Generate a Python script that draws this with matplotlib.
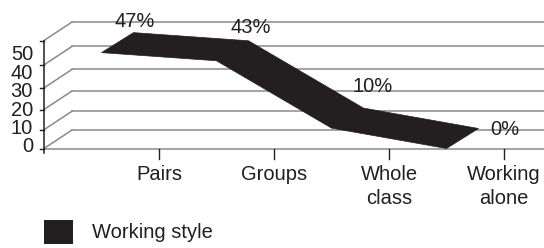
import matplotlib.pyplot as plt
from matplotlib.patches import Polygon, Rectangle

# data
categories = ['Pairs', 'Groups', 'Whole\nclass', 'Working\nalone']
values = [47, 43, 10, 0]
point_labels = ['47%', '43%', '10%', '0%']
y_ticks = [0, 10, 20, 30, 40, 50]
series_name = 'Working style'

# layout (pixel frame, y grows downwards)
W, H = 544, 248
x0, cat_w = 44, 115          # front y-axis position, width of one category
floor_front, floor_back = 148.5, 130
depth_dx = 28                # wall depth offset
rib_k = 2.04                 # ribbon px per unit
rib_dx, rib_dy = 32, -20     # ribbon depth
label_offsets = [(1, -11), (2, -13), (9, -22), (26, 1)]

dark = '#231f20'
grid = '#8a8a8a'
plt.rcParams['font.family'] = ['Liberation Sans', 'DejaVu Sans']
fs = 14.5


def wall_y(v, base):
    # slight perspective on the walls
    return base - 1.81 * v - 0.007 * v * v


fig = plt.figure(figsize=(W / 100, H / 100), dpi=100)
ax = fig.add_axes([0, 0, 1, 1])
ax.set_xlim(0, W)
ax.set_ylim(H, 0)
ax.axis('off')

# back wall gridlines and side diagonals
for v in y_ticks:
    yb = wall_y(v, floor_back)
    yf = wall_y(v, floor_front)
    ax.plot([x0 + depth_dx, W], [yb, yb], color=grid, lw=1.1, zorder=1)
    ax.plot([x0, x0 + depth_dx], [yf, yb], color=grid, lw=1.1, zorder=1)

# front floor / category axis
ax.plot([x0, W], [floor_front, floor_front], color=grid, lw=1.1, zorder=1)
for i in range(1, len(categories) + 1):
    xt = x0 + i * cat_w
    ax.plot([xt, xt], [floor_front, floor_front + 10], color=dark, lw=1.0)
    ax.text(xt, floor_front + 17, categories[i - 1], ha='center', va='top',
            fontsize=fs, color=dark, linespacing=1.3)

# value axis
ax.plot([x0, x0], [wall_y(max(y_ticks), floor_front), floor_front + 4],
        color=dark, lw=1.1)
for v in y_ticks:
    yf = wall_y(v, floor_front)
    ax.plot([x0 - 4, x0], [yf, yf], color=dark, lw=1.0)
    ax.text(33, 147 - v * 1.84, str(v), ha='right', va='center',
            fontsize=fs, color=dark)

# ribbon
front = [(x0 + (i + 0.5) * cat_w, floor_front - rib_k * v) for i, v in enumerate(values)]
back = [(x + rib_dx, y + rib_dy) for x, y in front]
ax.add_patch(Polygon(front + back[::-1], closed=True, facecolor=dark,
                     edgecolor=dark, lw=0.5, zorder=3))

for (x, y), lab, (ox, oy) in zip(back, point_labels, label_offsets):
    ax.text(x + ox, y + oy, lab, ha='center', va='center', fontsize=fs,
            color=dark, zorder=4)

# legend
ax.add_patch(Rectangle((44, 220), 29, 24, facecolor=dark, edgecolor='none'))
ax.text(92, 233, series_name, ha='left', va='center', fontsize=fs, color=dark)

fig.savefig('out.png', dpi=100)
